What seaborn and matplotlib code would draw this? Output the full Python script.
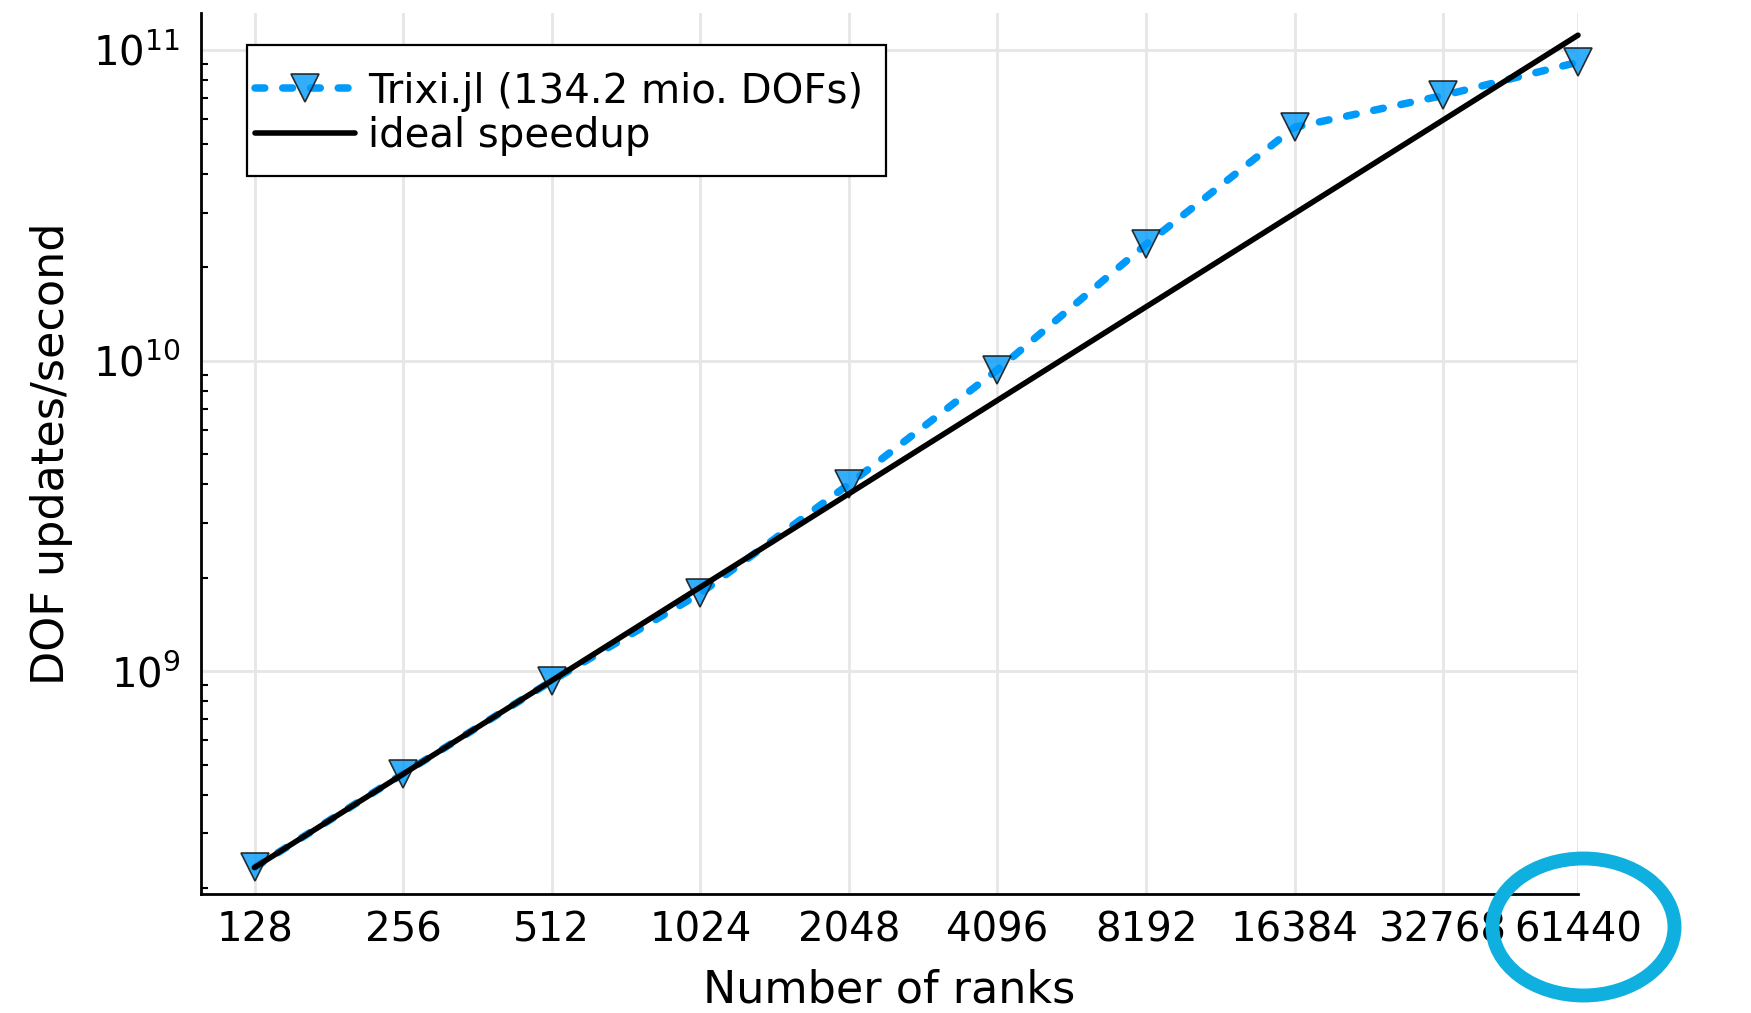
import matplotlib
matplotlib.use("Agg")
import matplotlib.pyplot as plt
import seaborn as sns
import numpy as np
import pandas as pd
from matplotlib.patches import Ellipse, Rectangle
from matplotlib.ticker import FixedLocator, NullFormatter, LogLocator, NullLocator, FixedFormatter

# ---- data ----
ranks = [128, 256, 512, 1024, 2048, 4096, 8192, 16384, 32768, 61440]
dof_updates = [2.33e8, 4.67e8, 9.3e8, 1.78e9, 4.0e9, 9.35e9, 2.37e10, 5.65e10, 7.15e10, 9.15e10]
ideal_ranks = [128, 61440]
ideal_dof_updates = [2.33e8, 1.118e11]
xtick_labels = ["128", "256", "512", "1024", "2048", "4096", "8192", "16384", "32768", "61440"]
ytick_values = [1e9, 1e10, 1e11]
ytick_labels = [r"$10^{9}$", r"$10^{10}$", r"$10^{11}$"]
series_label = "Trixi.jl (134.2 mio. DOFs)"
ideal_label = "ideal speedup"

sns.set_theme(style="white")
plt.rcParams["font.family"] = ["DejaVu Sans"]
plt.rcParams["mathtext.fontset"] = "dejavusans"
plt.rcParams["text.color"] = "black"
plt.rcParams["axes.labelcolor"] = "black"
plt.rcParams["xtick.color"] = "black"
plt.rcParams["ytick.color"] = "black"

W, H = 1751, 1013
fig = plt.figure(figsize=(W / 100, H / 100), dpi=100)
left, right, bottom, top = 201 / W, 1578 / W, 1 - 894 / H, 1 - 13 / H
ax = fig.add_axes([left, bottom, right - left, top - bottom])

blue = (0.0, 0.604, 0.98)
sns.lineplot(x=ranks, y=dof_updates, ax=ax, color=blue, linewidth=5.4,
             linestyle=(0, (1.3, 2.4)), dash_capstyle="round",
             marker="v", markersize=20,
             markerfacecolor=(0.0, 0.604, 0.98, 0.8),
             markeredgecolor=(0.1, 0.1, 0.1, 0.9), markeredgewidth=1.2,
             label=series_label, zorder=3, clip_on=False)
sns.lineplot(x=ideal_ranks, y=ideal_dof_updates, ax=ax, color="black",
             linewidth=4.0, solid_capstyle="round", label=ideal_label, zorder=4,
             clip_on=False)

ax.set_xscale("log", base=2)
ax.set_yscale("log", base=10)
ax.set_xlim(99.7, 61440)
ax.set_ylim(1.914e8, 1.318e11)

ax.xaxis.set_major_locator(FixedLocator(ranks))
ax.xaxis.set_major_formatter(FixedFormatter(xtick_labels))
ax.xaxis.set_minor_locator(NullLocator())
ax.yaxis.set_major_locator(FixedLocator(ytick_values))
ax.yaxis.set_major_formatter(FixedFormatter(ytick_labels))
ax.yaxis.set_minor_locator(LogLocator(base=10, subs=np.arange(2, 10)))
ax.yaxis.set_minor_formatter(NullFormatter())

for s in ["top", "right"]:
    ax.spines[s].set_visible(False)
for s in ["left", "bottom"]:
    ax.spines[s].set_color("black")
    ax.spines[s].set_linewidth(2.0)

ax.tick_params(axis="x", which="major", direction="in", length=10, width=1.5,
               color="black", labelsize=29, pad=12, labelcolor="black")
ax.tick_params(axis="y", which="major", direction="in", length=10, width=1.5,
               color="black", labelsize=29, pad=15, labelcolor="black")
ax.tick_params(axis="y", which="minor", direction="in", length=5, width=1.5,
               color="black", left=True)

ax.grid(True, which="major", color="#e6e6e6", linewidth=2.0)
ax.grid(False, which="minor")
ax.set_axisbelow(True)

ax.set_xlabel("Number of ranks", fontsize=32, labelpad=13, color="black")
ax.set_ylabel("DOF updates/second", fontsize=32, labelpad=14, color="black")

# legend entries (frame drawn separately to match the reference's padding)
leg = ax.legend(loc="upper left", bbox_to_anchor=((254.6 - 201) / 1377, 1 - (71.5 - 13) / 881),
                borderaxespad=0, borderpad=0, fontsize=29, frameon=False,
                handlelength=2.49, handletextpad=0.33, labelspacing=0.12,
                numpoints=1, labelcolor="black")
leg.set_zorder(12)
frame = Rectangle((246.8 / W, 1 - 176.4 / H), 638.8 / W, 131.7 / H,
                  transform=fig.transFigure, facecolor="white", edgecolor="black",
                  linewidth=1.6, zorder=11, clip_on=False)
ax.add_patch(frame)
frame.set_transform(fig.transFigure)

ell = Ellipse((1583.5 / W, 1 - 927 / H), 182 / W, 137 / H, transform=fig.transFigure,
              fill=False, edgecolor="#0fafe0", linewidth=10, zorder=10)
fig.add_artist(ell)

fig.savefig("out.png", dpi=100, facecolor="white")
